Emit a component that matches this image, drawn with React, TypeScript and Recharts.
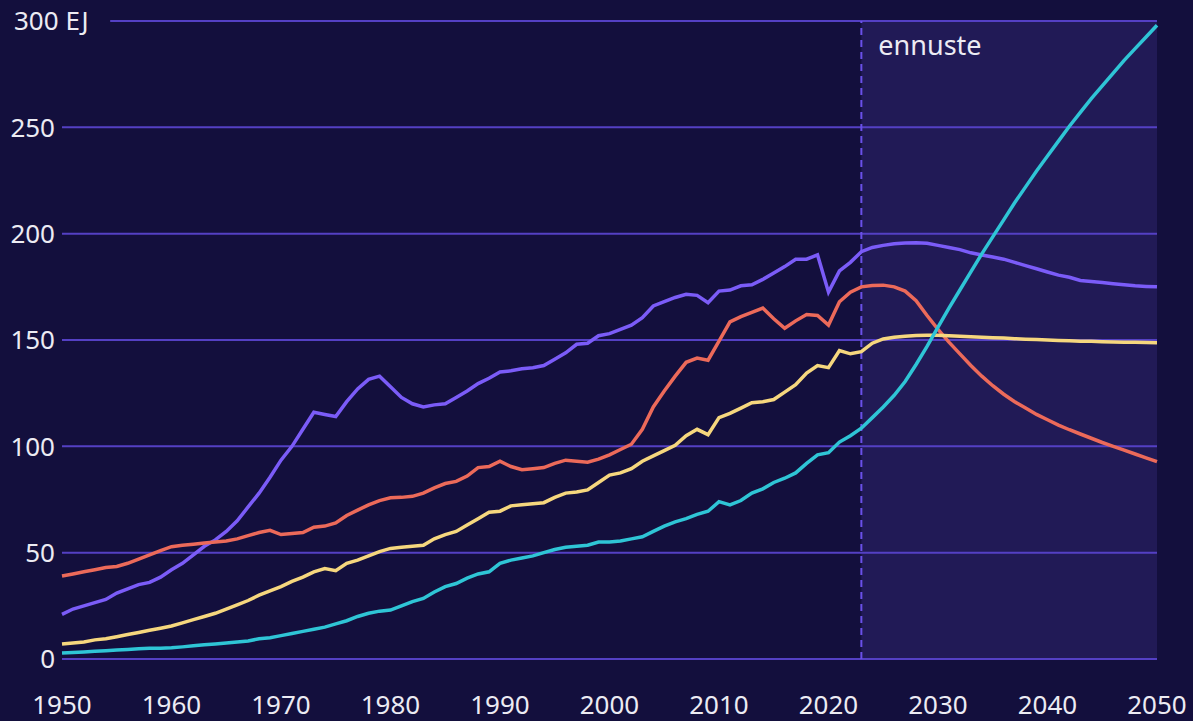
import React from 'react'
import { LineChart, Line, XAxis, YAxis, ReferenceArea, ReferenceLine } from 'recharts'

const years = [
  1950, 1951, 1952, 1953, 1954, 1955, 1956, 1957, 1958, 1959,
  1960, 1961, 1962, 1963, 1964, 1965, 1966, 1967, 1968, 1969,
  1970, 1971, 1972, 1973, 1974, 1975, 1976, 1977, 1978, 1979,
  1980, 1981, 1982, 1983, 1984, 1985, 1986, 1987, 1988, 1989,
  1990, 1991, 1992, 1993, 1994, 1995, 1996, 1997, 1998, 1999,
  2000, 2001, 2002, 2003, 2004, 2005, 2006, 2007, 2008, 2009,
  2010, 2011, 2012, 2013, 2014, 2015, 2016, 2017, 2018, 2019,
  2020, 2021, 2022, 2023, 2024, 2025, 2026, 2027, 2028, 2029,
  2030, 2031, 2032, 2033, 2034, 2035, 2036, 2037, 2038, 2039,
  2040, 2041, 2042, 2043, 2044, 2045, 2046, 2047, 2048, 2049,
  2050,
]

// purple
const oil = [
  21, 23.5, 25, 26.5, 28, 31, 33, 35, 36, 38.5,
  42, 45, 49, 53, 56, 60, 65, 71.5, 78, 85.5,
  93.5, 100, 108, 116, 115, 114, 121, 127, 131.5, 133,
  128, 123, 120, 118.5, 119.5, 120, 123, 126, 129.5, 132,
  135, 135.5, 136.5, 137, 138, 141, 144, 148, 148.5, 152,
  153, 155, 157, 160.5, 166, 168, 170, 171.5, 171, 167.5,
  173, 173.5, 175.5, 176, 178.5, 181.5, 184.5, 188, 188, 190,
  172.5, 182.5, 186.5, 191.5, 193.5, 194.5, 195.3, 195.6, 195.7, 195.5,
  194.5, 193.5, 192.5, 191, 190, 189, 188, 186.5, 185, 183.5,
  182, 180.5, 179.5, 178, 177.5, 177, 176.5, 176, 175.5, 175.2,
  175,
]

// red
const coal = [
  39, 40, 41, 42, 43, 43.5, 45, 47, 49, 51,
  52.8, 53.5, 54, 54.5, 55, 55.5, 56.5, 58, 59.5, 60.5,
  58.5, 59, 59.5, 62, 62.5, 64, 67.5, 70, 72.5, 74.5,
  75.8, 76, 76.5, 78, 80.5, 82.5, 83.5, 86, 90, 90.5,
  93, 90.5, 89, 89.5, 90, 92, 93.5, 93, 92.5, 94,
  96, 98.5, 101, 108, 118.5, 126, 133, 139.5, 141.5, 140.5,
  149.5, 158.5, 161, 163, 165, 160, 155.5, 159, 162, 161.5,
  157, 168, 172.5, 175, 175.6, 175.8, 175, 173, 168.5, 161.5,
  155, 149, 143.5, 138, 133, 128.5, 124.5, 121, 118, 115,
  112.5, 110, 107.8, 105.8, 103.8, 101.8, 100, 98.2, 96.4, 94.6,
  92.8,
]

// yellow
const gas = [
  7, 7.5, 8, 9, 9.5, 10.5, 11.5, 12.5, 13.5, 14.5,
  15.5, 17, 18.5, 20, 21.5, 23.5, 25.5, 27.5, 30, 32,
  34, 36.5, 38.5, 41, 42.5, 41.5, 45, 46.5, 48.5, 50.5,
  52, 52.5, 53, 53.5, 56.5, 58.5, 60, 63, 66, 69,
  69.5, 72, 72.5, 73, 73.5, 76, 78, 78.5, 79.5, 83,
  86.5, 87.5, 89.5, 93, 95.5, 98, 100.5, 105, 108, 105.5,
  113.5, 115.5, 118, 120.5, 121, 122, 125.5, 129, 134.5, 138,
  137, 145, 143.5, 144.5, 148.5, 150.5, 151.3, 151.8, 152.1, 152.2,
  152.2, 152, 151.8, 151.5, 151.3, 151.1, 150.9, 150.6, 150.4, 150.2,
  150, 149.8, 149.6, 149.4, 149.4, 149.2, 149.1, 149, 148.9, 148.8,
  148.7,
]

// cyan
const electricity = [
  2.8, 3, 3.3, 3.6, 3.9, 4.2, 4.5, 4.8, 5, 5.1,
  5.3, 5.7, 6.2, 6.7, 7.1, 7.5, 8, 8.5, 9.5, 10,
  11, 12, 13, 14, 15, 16.5, 18, 20, 21.5, 22.5,
  23, 25, 27, 28.5, 31.5, 34, 35.5, 38, 40, 41,
  45, 46.5, 47.5, 48.5, 50, 51.5, 52.5, 53, 53.5, 55,
  55, 55.5, 56.5, 57.5, 60, 62.5, 64.5, 66, 68, 69.5,
  74, 72.5, 74.5, 78, 80, 83, 85, 87.5, 92, 96,
  97, 102, 105, 108.5, 113.5, 118.5, 124, 130.5, 138.5, 147,
  156, 165, 173.5, 182, 190.5, 198.5, 206.5, 214.5, 222, 229.5,
  236.5, 243.5, 250.5, 257, 263.5, 269.5, 275.5, 281.5, 287, 292.5,
  298,
]

const xTicks = [1950, 1960, 1970, 1980, 1990, 2000, 2010, 2020, 2030, 2040, 2050]
const yTicks = [0, 50, 100, 150, 200, 250, 300]
const forecastStart = 2023
const forecastLabel = 'ennuste'
const unit = 'EJ'

const data = years.map((year, i) => ({
  year,
  oil: oil[i],
  coal: coal[i],
  gas: gas[i],
  electricity: electricity[i],
}))

const BG = '#130f3d'
const FORECAST_BG = '#211a56'
const GRID = '#5440c4'
const TEXT = '#ecebf3'
const FONT = '"Noto Sans", sans-serif'

const YTick = (props: any) => {
  const { x, y, payload } = props
  if (payload.value === 300) {
    return (
      <text x={14} y={y} dy="0.36em" fill={TEXT} fontSize={26} fontFamily={FONT}>
        {`${payload.value} ${unit}`}
      </text>
    )
  }
  return (
    <text x={x - 7} y={y} dy="0.36em" textAnchor="end" fill={TEXT} fontSize={26} fontFamily={FONT}>
      {payload.value}
    </text>
  )
}

const XTick = (props: any) => {
  const { x, y, payload } = props
  return (
    <text x={x} y={y + 55} textAnchor="middle" fill={TEXT} fontSize={26} fontFamily={FONT}>
      {payload.value}
    </text>
  )
}

export default function App() {
  return (
    <div style={{ width: 1193, height: 721, background: BG }}>
      <style>{`body { margin: 0; background: ${BG}; }`}</style>
      <LineChart
        width={1193}
        height={721}
        data={data}
        margin={{ top: 21, right: 36, bottom: 0, left: 0 }}
      >
        <XAxis
          dataKey="year"
          type="number"
          domain={[1950, 2050]}
          ticks={xTicks}
          height={62}
          axisLine={false}
          tickLine={false}
          tickSize={0}
          tickMargin={0}
          tick={<XTick />}
          interval={0}
        />
        <YAxis
          type="number"
          domain={[0, 300]}
          ticks={yTicks}
          width={62}
          axisLine={false}
          tickLine={false}
          tickSize={0}
          tickMargin={0}
          tick={<YTick />}
          interval={0}
        />
        <ReferenceArea
          x1={forecastStart}
          x2={2050}
          y1={0}
          y2={300}
          fill={FORECAST_BG}
          fillOpacity={1}
          stroke="none"
        />
        {yTicks.map((v) =>
          v === 300 ? (
            <ReferenceLine
              key={v}
              segment={[{ x: 1954.4, y: v }, { x: 2050, y: v }]}
              stroke={GRID}
              strokeWidth={2}
            />
          ) : (
            <ReferenceLine key={v} y={v} stroke={GRID} strokeWidth={2} />
          )
        )}
        <ReferenceLine
          x={forecastStart}
          stroke="#6a50e8"
          strokeWidth={2}
          strokeDasharray="7 5"
          label={(p: any) => (
            <text
              x={p.viewBox.x + 17}
              y={p.viewBox.y + 34}
              fill={TEXT}
              fontSize={27}
              fontFamily={FONT}
            >
              {forecastLabel}
            </text>
          )}
        />
        <Line type="linear" dataKey="oil" stroke="#7b5cf8" strokeWidth={3.5} dot={false} isAnimationActive={false} />
        <Line type="linear" dataKey="coal" stroke="#ec6a5a" strokeWidth={3.5} dot={false} isAnimationActive={false} />
        <Line type="linear" dataKey="gas" stroke="#f6d77e" strokeWidth={3.5} dot={false} isAnimationActive={false} />
        <Line type="linear" dataKey="electricity" stroke="#2fc5d6" strokeWidth={3.5} dot={false} isAnimationActive={false} />
      </LineChart>
    </div>
  )
}
